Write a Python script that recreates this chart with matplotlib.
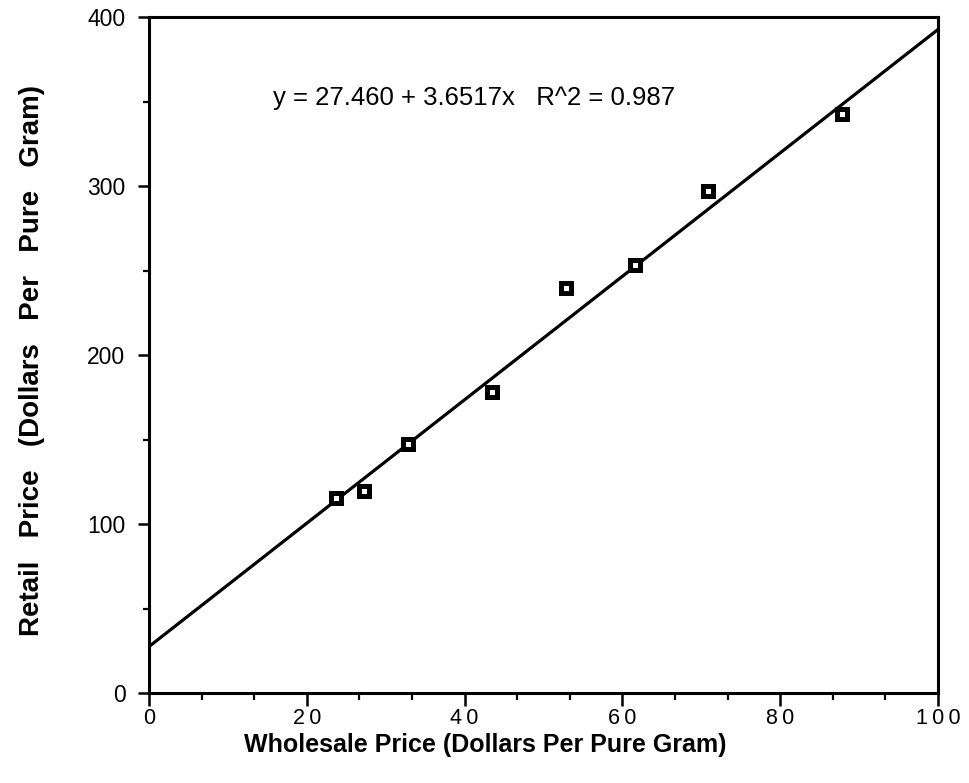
import matplotlib
matplotlib.use("Agg")
import matplotlib.pyplot as plt
import numpy as np

plt.rcParams['font.family'] = ['Liberation Sans', 'DejaVu Sans']

# Wholesale vs retail price observations
wholesale = [23.7, 27.2, 32.8, 43.5, 52.9, 61.6, 70.9, 87.8]
retail = [115.4, 119.5, 147.3, 178.0, 239.6, 253.0, 297.0, 342.6]

# Least-squares fit reported on the chart
intercept = 27.460
slope = 3.6517
r_squared = 0.987

x_ticks = [0, 20, 40, 60, 80, 100]
x_tick_labels = ['0', '2\u20090', '4\u20090', '6\u20090', '8\u20090', '1\u20090\u20090']
y_ticks = [0, 100, 200, 300, 400]
y_tick_labels = ['0', '100', '200', '300', '400']

W, H = 969, 783
fig = plt.figure(figsize=(W / 100, H / 100), dpi=100)
ax = fig.add_axes([149 / W, 1 - 693 / H, (938 - 149) / W, (693 - 17) / H])

# Regression line across the full x range
fit_x = np.array([0.0, 100.0])
ax.plot(fit_x, intercept + slope * fit_x, color='black', lw=2.3, solid_capstyle='butt', zorder=2)

# Observations as open squares
ax.plot(wholesale, retail, linestyle='none', marker='s', markersize=7.5,
        markerfacecolor='white', markeredgecolor='black', markeredgewidth=3.6, zorder=3)

ax.set_xlim(0, 100)
ax.set_ylim(0, 400)

for side in ['left', 'bottom', 'top', 'right']:
    ax.spines[side].set_linewidth(2.2)

ax.set_xticks(x_ticks)
ax.set_xticklabels(x_tick_labels)
ax.set_xticks(np.arange(0, 101, 20 / 3), minor=True)
ax.set_yticks(y_ticks)
ax.set_yticklabels(y_tick_labels)
ax.set_yticks([50, 150, 250, 350], minor=True)

ax.tick_params(axis='x', which='major', direction='out', length=9, width=1.8,
               labelsize=15.5, pad=1.5)
ax.tick_params(axis='x', which='minor', direction='out', length=5, width=1.6)
ax.tick_params(axis='y', which='major', direction='out', length=8, width=1.8,
               labelsize=16.5, pad=9)
ax.tick_params(axis='y', which='minor', direction='out', length=4, width=1.6)

# Axis titles
fig.text(485 / W, 1 - 745 / H, 'Wholesale Price (Dollars Per Pure Gram)', fontsize=18,
         fontweight='bold', ha='center', va='center')
fig.text(32 / W, 1 - 360 / H, 'Retail   Price   (Dollars   Per   Pure   Gram)', fontsize=20,
         fontweight='bold', ha='center', va='center', rotation=90)

ax.text(0.157, 0.88, 'y = 27.460 + 3.6517x   R^2 = 0.987', transform=ax.transAxes,
        fontsize=18.5, ha='left', va='center')

fig.savefig('out.png', dpi=100)
